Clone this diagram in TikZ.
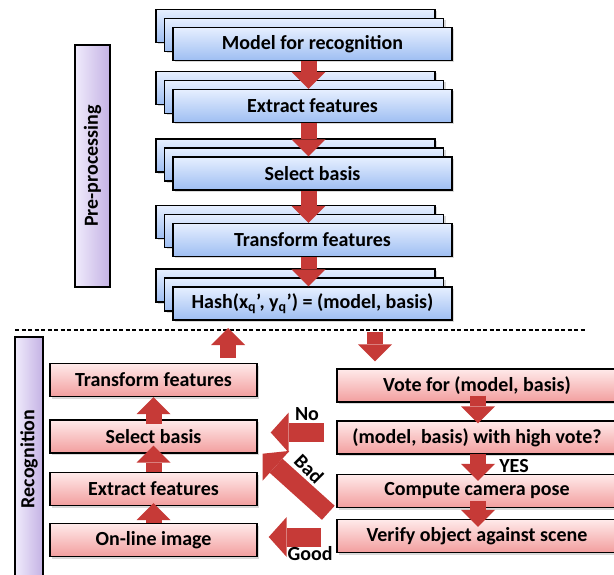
\documentclass[tikz,border=0pt]{standalone}
\usepackage{fontspec}
\setmainfont{Carlito}
\usetikzlibrary{arrows.meta,shadows}

\definecolor{sheetblue}{RGB}{158,190,242}
\definecolor{sheetbluetop}{RGB}{230,239,255}
\definecolor{stepred}{RGB}{242,158,158}
\definecolor{stepredtop}{RGB}{255,234,234}
\definecolor{phaselila}{RGB}{196,178,228}
\definecolor{phaselilatop}{RGB}{240,235,252}
\definecolor{flowred}{RGB}{198,58,55}

\tikzset{
	block/.style={draw=black, line width=1.4pt, minimum height=33pt, inner sep=0pt,
		font=\bfseries\fontsize{20}{22}\selectfont,
		drop shadow={shadow xshift=2pt, shadow yshift=-2pt, opacity=0.3}},
	sheet/.style={block, minimum width=279pt, top color=sheetbluetop, bottom color=sheetblue},
	stepbox/.style={block, top color=stepredtop, bottom color=stepred},
	phase/.style={draw=black, line width=1.4pt, rotate=90, inner sep=0pt,
		left color=phaselilatop, right color=phaselila,
		font=\bfseries\fontsize{20}{22}\selectfont},
	flow/.style={draw=flowred, line width=16pt, -{Triangle[width=34pt, length=17pt, line width=0pt]}},
	wideflow/.style={draw=flowred, line width=19pt, -{Triangle[width=40pt, length=18pt, line width=0pt]}},
	tag/.style={font=\bfseries\fontsize{20}{22}\selectfont, inner sep=0pt},
}

\begin{document}
\begin{tikzpicture}[x=1pt, y=-1pt]
	\useasboundingbox (0,0) rectangle (614,575);

	%phase bars
	\node[phase, minimum width=242pt, minimum height=35pt] (pre) at (92.5,166) {Pre-processing};
	\node[phase, minimum width=244pt, minimum height=28pt] (rec) at (29,459) {Recognition};

	%model stacks, two sheets behind each
	\foreach \y in {44, 106, 173.5, 240, 303.5}{
		\foreach \k in {2, 1}{
			\node[sheet] at (312.5-8.5*\k, \y-9*\k) {};
		}
	}
	\node[sheet] (mod) at (312.5, 44) {Model for recognition};
	\node[sheet] (ext) at (312.5, 106) {Extract features};
	\node[sheet] (sel) at (312.5, 173.5) {Select basis};
	\node[sheet] (tra) at (312.5, 240) {Transform features};
	\node[sheet] (hsh) at (312.5, 303.5) {Hash(x\textsubscript{q}’, y\textsubscript{q}’) = (model, basis)};

	\draw[flow] ([xshift=-4pt]mod.south) -- ([xshift=-4pt]ext.north);
	\draw[flow] ([xshift=-4pt]ext.south) -- ([xshift=-4pt]sel.north);
	\draw[flow] ([xshift=-4pt]sel.south) -- ([xshift=-4pt]tra.north);
	\draw[flow] ([xshift=-4pt]tra.south) -- ([xshift=-4pt]hsh.north);

	%split line
	\coordinate (sepl) at (15,330);
	\coordinate (sepr) at (585,330);
	\draw[line width=1.3pt, dash pattern=on 4pt off 2.5pt] (sepl) -- (sepr);
	\coordinate (upin) at (228,328);
	\coordinate (dnout) at (375,332);

	%on-line steps
	\node[stepbox, minimum width=207pt] (ltra) at (153.5, 380) {Transform features};
	\node[stepbox, minimum width=207pt] (lsel) at (153.5, 436.5) {Select basis};
	\node[stepbox, minimum width=207pt] (lext) at (153.5, 489) {Extract features};
	\node[stepbox, minimum width=207pt] (lonl) at (153.5, 540) {On-line image};

	%voting steps
	\node[stepbox, minimum width=280pt] (vote) at (477, 385.5) {Vote for (model, basis)};
	\node[stepbox, minimum width=280pt] (mbas) at (477, 437.5) {(model, basis) with high vote?};
	\node[stepbox, minimum width=280pt] (pose) at (477, 491) {Compute camera pose};
	\node[stepbox, minimum width=280pt] (vrf) at (477, 536) {Verify object against scene};

	\draw[flow] (lonl.north) -- ([yshift=3pt]lext.south);
	\draw[flow] (lext.north) -- ([yshift=8pt]lsel.south);
	\draw[flow] ([yshift=-5pt]lsel.north) -- (ltra.south);
	\draw[flow] ([shift={(74.5pt,5pt)}]ltra.north) -- (upin);

	\draw[flow] (dnout) -- ([shift={(-102pt,7pt)}]vote.north);
	\draw[flow] ([shift={(1pt,7pt)}]vote.south) -- ([shift={(1pt,-3pt)}]mbas.north);
	\draw[flow] ([shift={(1pt,1pt)}]mbas.south) -- ([shift={(1pt,-7pt)}]pose.north);
	\draw[flow] ([shift={(1pt,7pt)}]pose.south) -- ([shift={(1pt,-8pt)}]vrf.north);

	%feedback
	\draw[wideflow] ([shift={(-12pt,5pt)}]mbas.west) -- ([shift={(13pt,4pt)}]lsel.east);
	\draw[wideflow] ([shift={(-8pt,6pt)}]vrf.north west) -- ([shift={(5pt,0pt)}]lsel.south east);
	\draw[wideflow] ([shift={(-15pt,-1pt)}]vrf.west) -- ([shift={(11pt,3pt)}]lonl.east);

	\node[tag] (tno) at (307,414) {No};
	\node[tag, rotate=-45] (tbad) at (309,469) {Bad};
	\node[tag] (tgood) at (310,554) {Good};
	\node[tag] (tyes) at (514,466) {YES};
\end{tikzpicture}
\end{document}
